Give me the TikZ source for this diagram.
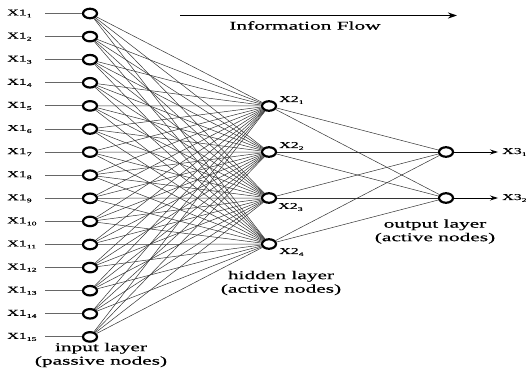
\documentclass[tikz,border=0pt]{standalone}
\usepackage{fontspec}
\setmainfont[FakeStretch=1.78,FakeBold=0.6]{Liberation Serif}
\usetikzlibrary{shapes.geometric,arrows.meta}
\newcommand{\nlbl}[2]{X#1\raisebox{-2pt}{\fontsize{5.5}{6}\selectfont #2}}
\begin{document}
\begin{tikzpicture}[x=1pt,y=-1pt,
  neuron/.style={ellipse,draw,line width=2.2pt,minimum width=14pt,minimum height=9.5pt,inner sep=0pt,fill=white},
  conn/.style={line width=0.5pt,draw=black!80},
  feed/.style={line width=0.9pt,draw=black!60},
  lab/.style={font=\fontsize{9}{9}\selectfont,inner sep=0pt},
  capt/.style={font=\fontsize{12}{13.5}\selectfont,align=center,inner sep=0pt}]
\useasboundingbox (0,0) rectangle (526,371);
% input layer
\foreach \k in {1,...,15}{
  \pgfmathsetmacro{\yy}{13.5+(\k-1)*23.1}
  \node[neuron] (i\k) at (90,\yy) {};
  \node[lab,anchor=west] (l\k) at (7,\yy) {\nlbl{1}{\k}};
  \coordinate (c\k) at (45,\yy);
  \draw[feed] (c\k) -- (i\k);
}
% hidden layer
\node[neuron] (h1) at (269,106) {};
\node[neuron] (h2) at (269,152) {};
\node[neuron] (h3) at (269,198) {};
\node[neuron] (h4) at (269,244) {};
% output layer
\node[neuron] (o1) at (446,152) {};
\node[neuron] (o2) at (446,198) {};
% connections
\foreach \k in {1,...,15}{
  \foreach \j in {1,...,4}{
    \draw[conn] (i\k) -- (h\j);
  }
}
\foreach \j in {1,...,4}{
  \foreach \m in {1,2}{
    \draw[conn] (h\j) -- (o\m);
  }
}
% hidden labels
\node[lab,anchor=west] (lh1) at (279,100) {\nlbl{2}{1}};
\node[lab,anchor=west] (lh2) at (279,146) {\nlbl{2}{2}};
\node[lab,anchor=west] (lh3) at (278,207) {\nlbl{2}{3}};
\node[lab,anchor=west] (lh4) at (279,252) {\nlbl{2}{4}};
% outputs
\coordinate (e1) at (498,152);
\coordinate (e2) at (498,198);
\draw[line width=0.8pt,-{Stealth[length=8pt,width=5pt]}] (o1) -- (e1);
\draw[line width=0.8pt,-{Stealth[length=8pt,width=5pt]}] (o2) -- (e2);
\node[lab,anchor=west] (lo1) at (502,152) {\nlbl{3}{1}};
\node[lab,anchor=west] (lo2) at (502,198) {\nlbl{3}{2}};
% information flow
\coordinate (fs) at (180,15.5);
\coordinate (fe) at (457,15.5);
\draw[line width=1.5pt,-{Stealth[length=9pt,width=6pt]}] (fs) -- (fe);
\node[capt] (flow) at (305,25.5) {Information Flow};
% captions
\node[capt] (cin) at (101,355) {input layer\\(passive nodes)};
\node[capt] (chid) at (281,283) {hidden layer\\(active nodes)};
\node[capt] (cout) at (435,231.5) {output layer\\(active nodes)};
\end{tikzpicture}
\end{document}
